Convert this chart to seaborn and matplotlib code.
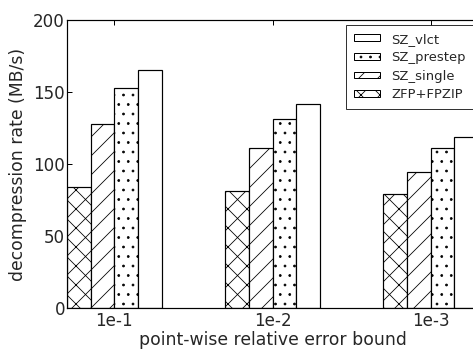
import matplotlib
matplotlib.use("Agg")
import matplotlib.pyplot as plt
import seaborn as sns
import pandas as pd
from matplotlib.patches import Patch

bounds = ["1e-1", "1e-2", "1e-3"]
methods = ["ZFP+FPZIP", "SZ_single", "SZ_prestep", "SZ_vlct"]
zfp_fpzip = [84, 81, 79]
sz_single = [127.5, 111, 94.5]
sz_prestep = [152.5, 131.5, 111]
sz_vlct = [165, 142, 119]
hatches = ["xx", "//", "..", ""]

series = [zfp_fpzip, sz_single, sz_prestep, sz_vlct]
df = pd.DataFrame({
    "bound": [b for s in series for b in bounds],
    "method": [m for m, s in zip(methods, series) for _ in s],
    "rate": [v for s in series for v in s],
})

DPI = 114
def px(v):
    return v * 72.0 / DPI

sns.set_style("ticks")
plt.rcParams["font.family"] = ["DejaVu Sans"]
plt.rcParams["hatch.linewidth"] = px(0.8)

W, H = 473, 349
fig = plt.figure(figsize=(W / DPI, H / DPI), dpi=DPI)
ax = fig.add_axes([67 / W, 1 - 308 / H, (478 - 67) / W, (308 - 20) / H])

sns.barplot(data=df, x="bound", y="rate", hue="method", order=bounds,
            hue_order=methods, width=0.6, palette=["white"] * 4,
            edgecolor="black", linewidth=px(1.2), saturation=1, ax=ax, legend=False)

for cont, h in zip(ax.containers, hatches):
    for p in cont:
        p.set_hatch(h)
        p.set_facecolor("white")
        p.set_edgecolor("black")

ax.set_xlim(-0.3, 2.3)
ax.set_ylim(0, 200)
ax.set_yticks([0, 50, 100, 150, 200])
ax.set_xlabel("point-wise relative error bound", fontsize=px(17.3), labelpad=px(1))
ax.set_ylabel("decompression rate (MB/s)", fontsize=px(17.3), labelpad=px(6))
ax.tick_params(axis="both", direction="in", top=True, right=True, length=px(5),
               width=px(1.0), labelsize=px(16.8), color="black")
ax.tick_params(axis="x", pad=px(4))
ax.tick_params(axis="y", pad=px(2))
for s in ax.spines.values():
    s.set_visible(True)
    s.set_color("black")
    s.set_linewidth(px(1.2))

handles = [Patch(facecolor="white", edgecolor="black", hatch=h, label=m,
                 linewidth=px(1.0))
           for m, h in zip(methods, hatches)][::-1]
leg = ax.legend(handles=handles, loc="upper right", fontsize=px(13.2), frameon=True,
                fancybox=False, edgecolor="black", handlelength=2.0,
                handleheight=0.4, labelspacing=0.42, borderaxespad=0.35,
                borderpad=0.6, handletextpad=0.8)
leg.get_frame().set_linewidth(px(1.0))

fig.savefig("out.png", dpi=DPI)
